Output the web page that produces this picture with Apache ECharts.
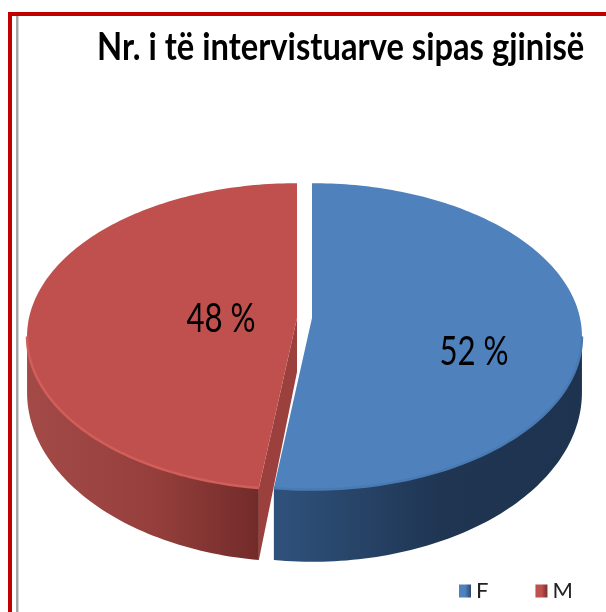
<!DOCTYPE html>
<html>
<head>
<meta charset="utf-8">
<script src="https://cdn.jsdelivr.net/npm/echarts@6/dist/echarts.min.js"></script>
<style>
  html, body { margin: 0; padding: 0; background: #fff; }
  #chart { width: 606px; height: 612px; }
</style>
</head>
<body>
<div id="chart"></div>
<script>
const categories = ["F", "M"];
const values = [52, 48];
const titleText = "Nr. i të intervistuarve sipas gjinisë";

// look of each slice
const topColors = ["#4f81bd", "#c0504d"];
const rimColors = ["#4a7ab3", "#d25e5a"];
const sideStops = [
  ["#2f527c", "#1f3552", "#1e3350"],
  ["#a34a47", "#953f3c", "#722b29"],
];
const legendStops = [
  ["#4f81bd", "#2c4a70"],
  ["#c0504d", "#7a2f2d"],
];
const centerX = [312, 297];
const labelX = [474, 221];
const labelY = [352, 319];

// pie projection: top and base ellipses, with perspective
const RX = 268;
const TILT = 0.12;
const TOP_Y = 318, TOP_RY = 151;
const BASE_Y = 372, BASE_RY = 167;
const EXTREME = Math.acos(-TILT);

const total = values.reduce((a, b) => a + b, 0);

function point(cx, cy, ry, angle) {
  const u = Math.sin(angle);
  const v = -Math.cos(angle);
  const s = 1 / (1 - TILT * v);
  return [cx + RX * u * s, cy + ry * v * s];
}

function arc(cx, cy, ry, from, to) {
  const pts = [];
  const n = Math.max(2, Math.ceil(Math.abs(to - from) / 0.02));
  for (let i = 0; i <= n; i++) {
    pts.push(point(cx, cy, ry, from + ((to - from) * i) / n));
  }
  return pts;
}

function renderSlice(idx) {
  return function (params, api) {
    const before = values.slice(0, idx).reduce((a, b) => a + b, 0);
    const a0 = (before / total) * Math.PI * 2;
    const a1 = ((before + api.value(0)) / total) * Math.PI * 2;
    const cx = centerX[idx];

    // only the front part of the wall can be seen
    const sideFrom = Math.max(a0, EXTREME);
    const sideTo = Math.min(a1, Math.PI * 2 - EXTREME);
    const topEdge = arc(cx, TOP_Y, TOP_RY, sideFrom, sideTo);
    const baseEdge = arc(cx, BASE_Y, BASE_RY, sideFrom, sideTo).reverse();
    const wall = {
      type: "linear", x: 0, y: 0, x2: 1, y2: 0,
      colorStops: [
        { offset: 0, color: sideStops[idx][0] },
        { offset: 0.55, color: sideStops[idx][1] },
        { offset: 1, color: sideStops[idx][2] },
      ],
    };
    const children = [
      { type: "polygon", shape: { points: topEdge.concat(baseEdge) }, style: { fill: wall } },
    ];

    // cut face of M, turned toward the viewer
    if (idx === 1) {
      children.push({
        type: "polygon",
        shape: {
          points: [
            [cx, TOP_Y],
            point(cx, TOP_Y, TOP_RY, a0),
            point(cx, BASE_Y, BASE_RY, a0),
            [cx, BASE_Y],
          ],
        },
        style: { fill: "#9c403d" },
      });
    }

    children.push({
      type: "polygon",
      shape: { points: [[cx, TOP_Y]].concat(arc(cx, TOP_Y, TOP_RY, a0, a1)) },
      style: { fill: topColors[idx] },
    });
    children.push({
      type: "polyline",
      shape: { points: topEdge },
      style: { fill: "none", stroke: rimColors[idx], lineWidth: 2.5 },
    });
    children.push({
      type: "text",
      x: labelX[idx],
      y: labelY[idx],
      scaleX: 0.78,
      style: {
        text: api.value(0) + " %",
        x: 0,
        y: 0,
        fill: "#000",
        font: "40px Lato, sans-serif",
        align: "center",
        verticalAlign: "middle",
      },
    });
    return { type: "group", children };
  };
}

const chart = echarts.init(document.getElementById("chart"), null, { renderer: "canvas" });

chart.setOption({
  animation: false,
  backgroundColor: "#fff",
  color: ["#3f6da3", "#b0413e"],
  legend: {
    data: categories.map((name, i) => ({
      name,
      itemStyle: {
        color: {
          type: "linear", x: 0, y: 0, x2: 1, y2: 0,
          colorStops: [
            { offset: 0.5, color: legendStops[i][0] },
            { offset: 1, color: legendStops[i][1] },
          ],
        },
      },
    })),
    left: 454,
    top: 575,
    icon: "rect",
    itemWidth: 12,
    itemHeight: 13,
    itemGap: 47,
    textStyle: {
      fontFamily: "Lato, sans-serif",
      fontSize: 22,
      color: "#222",
    },
  },
  graphic: [
    { type: "rect", silent: true, shape: { x: 8, y: 12, width: 598, height: 4 }, style: { fill: "#c00000" } },
    { type: "rect", silent: true, shape: { x: 8, y: 12, width: 4, height: 600 }, style: { fill: "#c00000" } },
    { type: "rect", silent: true, shape: { x: 16, y: 16, width: 2.5, height: 596 }, style: { fill: "#a6a6a6" } },
    {
      type: "text",
      silent: true,
      x: 97,
      y: 48,
      scaleX: 0.86,
      style: {
        text: titleText,
        x: 0,
        y: 0,
        fill: "#000",
        font: "bold 38px Lato, sans-serif",
        align: "left",
        verticalAlign: "middle",
      },
    },
  ],
  series: categories.map((name, i) => ({
    type: "custom",
    name,
    coordinateSystem: "none",
    renderItem: renderSlice(i),
    data: [values[i]],
  })),
});

window.addEventListener("resize", () => chart.resize());
</script>
</body>
</html>
